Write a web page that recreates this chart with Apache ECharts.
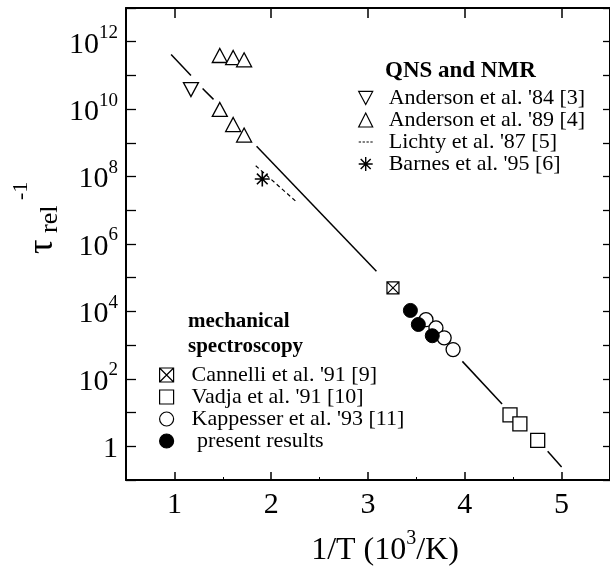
<!DOCTYPE html>
<html><head><meta charset="utf-8">
<script src="https://cdn.jsdelivr.net/npm/echarts@6/dist/echarts.min.js"></script>
<style>html,body{margin:0;padding:0;background:#fff}#c{width:610px;height:567px}</style>
</head><body><div id="c"></div>
<script>
// ---- data (x = 1/T in 10^3/K, y = relaxation rate) ----
const xTicks = [1, 2, 3, 4, 5];
const xMinorTicks = [1.5, 2.5, 3.5, 4.5];
const yTicks = [0.1, 1, 1e1, 1e2, 1e3, 1e4, 1e5, 1e6, 1e7, 1e8, 1e9, 1e10, 1e11, 1e12, 1e13];
const yLabels = [1, 1e2, 1e4, 1e6, 1e8, 1e10, 1e12];

const fitSegments = [
  [[0.966, 4.2e11], [1.171, 1.0e11]],
  [[1.291, 4.1e10], [1.404, 1.95e10]],
  [[1.849, 7.9e8], [3.087, 1.55e5]],
  [[3.975, 330], [4.385, 18]],
  [[4.856, 0.71], [5.0, 0.245]]
];
const anderson84 = [[1.171, 3.8e10]];
const anderson89 = [[1.469, 3.9e11], [1.607, 3.4e11], [1.720, 2.9e11],
                    [1.469, 9.8e9], [1.607, 3.5e9], [1.720, 1.7e9]];
const lichty = [[1.84, 2.1e8], [2.25, 1.9e7]];
const barnes = [[1.908, 8.5e7]];
const cannelli = [[3.258, 5.0e4]];
const vadja = [[4.467, 8.5], [4.569, 4.6], [4.753, 1.5]];
const kappesser = [[3.599, 5700], [3.702, 3250], [3.787, 1650], [3.879, 740]];
const present = [[3.438, 1.07e4], [3.520, 4100], [3.664, 1900]];

const qnsNames = ["Anderson et al. '84 [3]", "Anderson et al. '89 [4]", "Lichty et al. '87 [5]", "Barnes et al. '95 [6]"];
const mechNames = ["Cannelli et al. '91 [9]", "Vadja et al. '91 [10]", "Kappesser et al. '93 [11]", "present results"];

// ---- chart ----
const FONT = '"Liberation Serif", "Times New Roman", serif';
const chart = echarts.init(document.getElementById('c'), null, {renderer: 'canvas'});
const openStyle = {color: '#fff', borderColor: '#000', borderWidth: 1.3, opacity: 1};
const axisLine = {show: true, lineStyle: {color: '#000', width: 2}};
const ASTER = 'path://M7,0L7,14M0,7L14,7M2,2L12,12M2,12L12,2';
const XSQ = 'path://M0,0L10,0L10,10L0,10ZM0,0L10,10M10,0L0,10';
const DOWNTRI = 'path://M0,0L15,0L7.5,14Z';
const DASH = 'path://M0,0L3,0L3,1.6L0,1.6ZM5,0L8,0L8,1.6L5,1.6ZM10,0L13,0L13,1.6L10,1.6ZM15,0L18,0L18,1.6L15,1.6Z';

const series = [];
fitSegments.forEach((seg, i) => series.push({
  name: 'fit' + i, type: 'line', data: seg, symbol: 'none', silent: true,
  lineStyle: {color: '#000', width: 1.5}, z: 1
}));
series.push(
  {name: qnsNames[0], type: 'scatter', data: anderson84, symbol: DOWNTRI, symbolSize: [15, 14], itemStyle: openStyle, z: 3},
  {name: qnsNames[1], type: 'scatter', data: anderson89, symbol: 'triangle', symbolSize: [15, 14], itemStyle: openStyle, z: 3},
  {name: qnsNames[2], type: 'line', data: lichty, symbol: 'none', lineStyle: {color: '#000', width: 1.2, type: [4, 3]}, itemStyle: {color: '#000'}, z: 2},
  {name: qnsNames[3], type: 'scatter', data: barnes, symbol: ASTER, symbolSize: 15, itemStyle: {color: '#000', borderColor: '#000', borderWidth: 1.6, opacity: 1}, z: 3},
  {name: mechNames[0], type: 'scatter', data: cannelli, symbol: XSQ, symbolSize: 12, itemStyle: {color: '#fff', borderColor: '#000', borderWidth: 1.2, opacity: 1}, z: 3},
  {name: mechNames[1], type: 'scatter', data: vadja, symbol: 'rect', symbolSize: 14, itemStyle: openStyle, z: 3},
  {name: mechNames[2], type: 'scatter', data: kappesser, symbol: 'circle', symbolSize: 14, itemStyle: openStyle, z: 3},
  {name: mechNames[3], type: 'scatter', data: present, symbol: 'circle', symbolSize: 14, itemStyle: {color: '#000', borderColor: '#000', borderWidth: 1, opacity: 1}, z: 4}
);

const legendText = {fontFamily: FONT, fontSize: 22, color: '#000'};
const yFmt = v => {
  const e = Math.round(Math.log10(v));
  return e === 0 ? '{b|1}' : '{b|10}{s|' + e + '}';
};
const yRich = {
  b: {fontFamily: FONT, fontSize: 30, color: '#000', lineHeight: 36, verticalAlign: 'bottom'},
  s: {fontFamily: FONT, fontSize: 19, color: '#000', lineHeight: 36, verticalAlign: 'top'}
};

chart.setOption({
  animation: false,
  backgroundColor: '#fff',
  grid: {left: 126, top: 8, width: 486, height: 472, containLabel: false, show: false},
  xAxis: [
    {type: 'value', position: 'bottom', min: 0.5, max: 5.5, axisLine,
     splitLine: {show: false},
     axisTick: {show: true, inside: true, length: 8, customValues: xTicks, lineStyle: {color: '#000', width: 1.5}},
     axisLabel: {show: true, customValues: xTicks, margin: 10, fontFamily: FONT, fontSize: 30, color: '#000'}},
    {type: 'value', position: 'bottom', min: 0.5, max: 5.5, axisLine: {show: false},
     splitLine: {show: false},
     axisTick: {show: true, inside: true, length: 3, customValues: xMinorTicks, lineStyle: {color: '#000', width: 1}},
     axisLabel: {show: false}},
    {type: 'value', position: 'top', min: 0.5, max: 5.5, axisLine,
     splitLine: {show: false},
     axisTick: {show: true, inside: true, length: 10, customValues: xTicks, lineStyle: {color: '#000', width: 1.5}},
     axisLabel: {show: false}}
  ],
  yAxis: [
    {type: 'log', logBase: 10, position: 'left', min: 0.1, max: 1e13, axisLine,
     splitLine: {show: false}, minorTick: {show: false},
     axisTick: {show: true, inside: true, length: 10, customValues: yTicks, lineStyle: {color: '#000', width: 1.3}},
     axisLabel: {show: true, customValues: yLabels, margin: 8, formatter: yFmt, rich: yRich}},
    {type: 'log', logBase: 10, position: 'right', min: 0.1, max: 1e13, axisLine,
     splitLine: {show: false},
     axisTick: {show: true, inside: true, length: 7, customValues: yTicks, lineStyle: {color: '#000', width: 1.3}},
     axisLabel: {show: false}}
  ],
  legend: [
    {orient: 'vertical', left: 358, top: 87, padding: 0, itemWidth: 14, itemHeight: 14, itemGap: 0,
     selectedMode: false, itemStyle: {borderWidth: 1.2},
     data: [
       {name: qnsNames[0]},
       {name: qnsNames[1]},
       {name: qnsNames[2], icon: DASH, itemStyle: {color: '#000', borderWidth: 0}},
       {name: qnsNames[3], itemStyle: {borderWidth: 1.4}}
     ],
     textStyle: Object.assign({lineHeight: 21.5, padding: [0, 0, 0, 11]}, legendText)},
    {orient: 'vertical', left: 159, top: 364, padding: 0, itemWidth: 14, itemHeight: 14, itemGap: 0,
     selectedMode: false, itemStyle: {borderWidth: 1.2}, data: mechNames,
     formatter: n => n === 'present results' ? ' ' + n : n,
     textStyle: Object.assign({lineHeight: 22, padding: [0, 0, 0, 13]}, legendText)}
  ],
  graphic: [
    {type: 'text', left: 385, top: 60, style: {text: 'QNS and NMR', font: 'bold 23px ' + FONT, fill: '#000'}},
    {type: 'text', left: 188, top: 309, style: {text: 'mechanical\nspectroscopy', font: 'bold 21px ' + FONT, lineHeight: 25, fill: '#000'}},
    {type: 'text', x: 385, y: 548, style: {
      text: '{b|1/T (10}{s|3}{b|/K)}', align: 'center', verticalAlign: 'middle',
      rich: {b: {fontFamily: FONT, fontSize: 32, fill: '#000', lineHeight: 38, verticalAlign: 'bottom'},
             s: {fontFamily: FONT, fontSize: 20, fill: '#000', lineHeight: 38, verticalAlign: 'top'}}}},
    {type: 'group', x: 45, y: 254, rotation: Math.PI / 2, children: [
      {type: 'text', x: 0, y: -2, style: {text: 'τ', font: '36px ' + FONT, fill: '#000', align: 'left', verticalAlign: 'middle'}},
      {type: 'text', x: 21, y: 5, style: {text: 'rel', font: '26px ' + FONT, fill: '#000', align: 'left', verticalAlign: 'middle'}},
      {type: 'text', x: 54, y: -24, style: {text: '-1', font: '22px ' + FONT, fill: '#000', align: 'left', verticalAlign: 'middle'}}
    ]}
  ],
  series
});
</script></body></html>
